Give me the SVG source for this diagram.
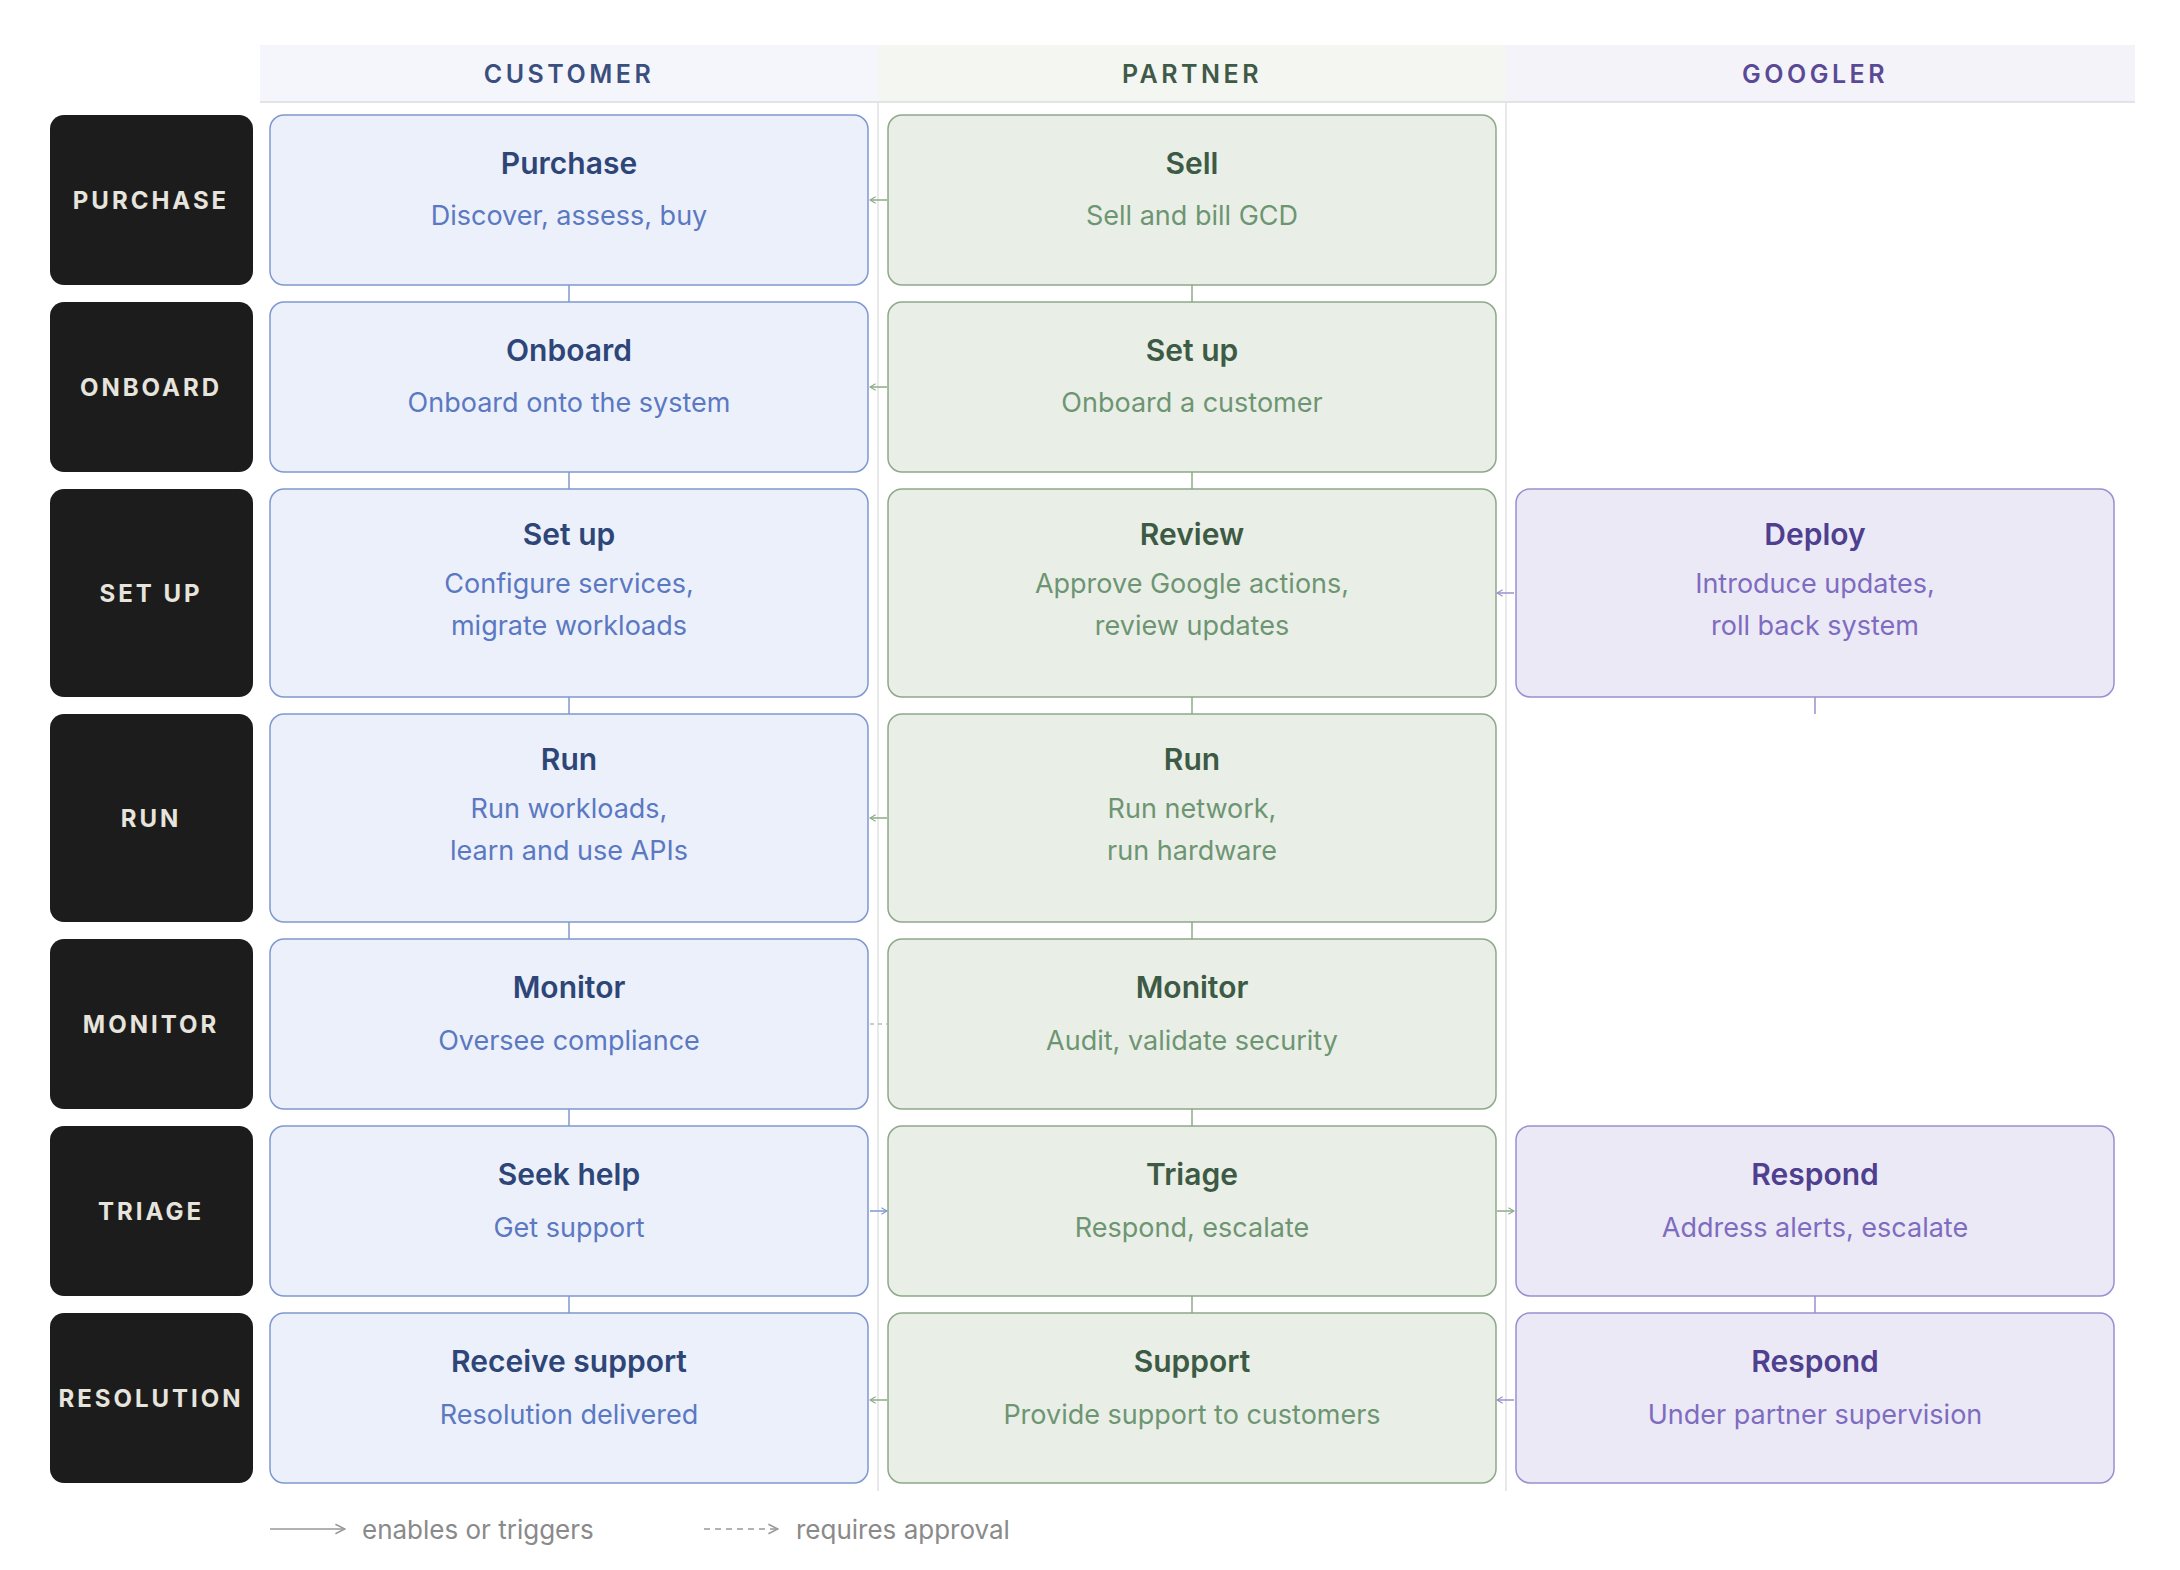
<svg xmlns="http://www.w3.org/2000/svg" width="2180" height="1570" viewBox="0 0 2180 1570">
<style>
text{font-family:Inter,"Liberation Sans",sans-serif;text-anchor:middle}
.lab rect{fill:#1c1c1c}
.lab text{fill:#e6e4dc;font-size:24px;font-weight:700;letter-spacing:3px}
.hd{font-size:25px;font-weight:600;letter-spacing:3.5px}
.c rect{fill:#ecf0fa;stroke:#7f98d0;stroke-width:1.5}
.c .t{fill:#2e4677}.c .s{fill:#5b78c2}
.p rect{fill:#e9efe6;stroke:#8fa88a;stroke-width:1.5}
.p .t{fill:#3d5a45}.p .s{fill:#6e9573}
.g rect{fill:#ece9f6;stroke:#9a8fd0;stroke-width:1.5}
.g .t{fill:#4f3f8f}.g .s{fill:#7e6cc0}
.t{font-size:30px;font-weight:600}
.s{font-size:27px}
.vc{stroke-width:1.5}
.leg{font-size:26px;fill:#8a8a8a;text-anchor:start}
</style>
<defs>
<marker id="ab" viewBox="0 0 10 10" refX="9" refY="5" markerWidth="8" markerHeight="8" orient="auto-start-reverse" markerUnits="userSpaceOnUse"><path d="M2,1 L9,5 L2,9" fill="none" stroke="#7f98d0" stroke-width="1.5"/></marker>
<marker id="ag" viewBox="0 0 10 10" refX="9" refY="5" markerWidth="8" markerHeight="8" orient="auto-start-reverse" markerUnits="userSpaceOnUse"><path d="M2,1 L9,5 L2,9" fill="none" stroke="#8fa88a" stroke-width="1.5"/></marker>
<marker id="av" viewBox="0 0 10 10" refX="9" refY="5" markerWidth="8" markerHeight="8" orient="auto-start-reverse" markerUnits="userSpaceOnUse"><path d="M2,1 L9,5 L2,9" fill="none" stroke="#9a8fd0" stroke-width="1.5"/></marker>
<marker id="ak" viewBox="0 0 10 10" refX="9" refY="5" markerWidth="12" markerHeight="12" orient="auto" markerUnits="userSpaceOnUse"><path d="M1,1 L9,5 L1,9" fill="none" stroke="#999" stroke-width="1.3"/></marker>
</defs>
<rect width="2180" height="1570" fill="#fff"/>
<g id="header">
<rect x="260" y="45" width="618" height="57" fill="#f4f6fb"/>
<rect x="878" y="45" width="628" height="57" fill="#f3f6f1"/>
<rect x="1506" y="45" width="629" height="57" fill="#f4f3fa"/>
<line x1="260" y1="102" x2="2135" y2="102" stroke="#dcdcdc" stroke-width="1.5"/>
<text class="hd" x="569" y="83" fill="#3b4f7f">CUSTOMER</text>
<text class="hd" x="1192" y="83" fill="#3f5a46">PARTNER</text>
<text class="hd" x="1815" y="83" fill="#5a4a95">GOOGLER</text>
<line x1="878" y1="102" x2="878" y2="1491" stroke="#e2e2e2" stroke-width="1.5"/>
<line x1="1506" y1="102" x2="1506" y2="1491" stroke="#e2e2e2" stroke-width="1.5"/>
</g>
<g id="labels" class="lab">
<g id="l-purchase"><rect x="50" y="115" width="203" height="170" rx="14"/><text x="151" y="209">PURCHASE</text></g>
<g id="l-onboard"><rect x="50" y="302" width="203" height="170" rx="14"/><text x="151" y="396">ONBOARD</text></g>
<g id="l-setup"><rect x="50" y="489" width="203" height="208" rx="14"/><text x="151" y="602">SET UP</text></g>
<g id="l-run"><rect x="50" y="714" width="203" height="208" rx="14"/><text x="151" y="827">RUN</text></g>
<g id="l-monitor"><rect x="50" y="939" width="203" height="170" rx="14"/><text x="151" y="1033">MONITOR</text></g>
<g id="l-triage"><rect x="50" y="1126" width="203" height="170" rx="14"/><text x="151" y="1220">TRIAGE</text></g>
<g id="l-resolution"><rect x="50" y="1313" width="203" height="170" rx="14"/><text x="151" y="1407">RESOLUTION</text></g>
</g>
<g id="connectors">
<g stroke="#7f98d0" class="vc">
<line x1="569" y1="285" x2="569" y2="302"/><line x1="569" y1="472" x2="569" y2="489"/><line x1="569" y1="697" x2="569" y2="714"/><line x1="569" y1="922" x2="569" y2="939"/><line x1="569" y1="1109" x2="569" y2="1126"/><line x1="569" y1="1296" x2="569" y2="1313"/>
</g>
<g stroke="#8fa88a" class="vc">
<line x1="1192" y1="285" x2="1192" y2="302"/><line x1="1192" y1="472" x2="1192" y2="489"/><line x1="1192" y1="697" x2="1192" y2="714"/><line x1="1192" y1="922" x2="1192" y2="939"/><line x1="1192" y1="1109" x2="1192" y2="1126"/><line x1="1192" y1="1296" x2="1192" y2="1313"/>
</g>
<g stroke="#9a8fd0" class="vc">
<line x1="1815" y1="697" x2="1815" y2="714"/><line x1="1815" y1="1296" x2="1815" y2="1313"/>
</g>
<g stroke-width="1.5" fill="none">
<line x1="887" y1="200" x2="870" y2="200" stroke="#8fa88a" marker-end="url(#ag)"/>
<line x1="887" y1="387" x2="870" y2="387" stroke="#8fa88a" marker-end="url(#ag)"/>
<line x1="887" y1="818" x2="870" y2="818" stroke="#8fa88a" marker-end="url(#ag)"/>
<line x1="887" y1="1400" x2="870" y2="1400" stroke="#8fa88a" marker-end="url(#ag)"/>
<line x1="870" y1="1024" x2="887" y2="1024" stroke="#bbb" stroke-dasharray="4,4"/>
<line x1="870" y1="1211" x2="887" y2="1211" stroke="#7f98d0" marker-end="url(#ab)"/>
<line x1="1514" y1="593" x2="1497" y2="593" stroke="#9a8fd0" marker-end="url(#av)"/>
<line x1="1497" y1="1211" x2="1514" y2="1211" stroke="#8fa88a" marker-end="url(#ag)"/>
<line x1="1514" y1="1400" x2="1497" y2="1400" stroke="#9a8fd0" marker-end="url(#av)"/>
</g>
</g>
<g id="customer" class="c">
<g id="c-purchase"><rect x="270" y="115" width="598" height="170" rx="14"/><text class="t" x="569" y="174">Purchase</text><text class="s" x="569" y="225">Discover, assess, buy</text></g>
<g id="c-onboard"><rect x="270" y="302" width="598" height="170" rx="14"/><text class="t" x="569" y="361">Onboard</text><text class="s" x="569" y="412">Onboard onto the system</text></g>
<g id="c-setup"><rect x="270" y="489" width="598" height="208" rx="14"/><text class="t" x="569" y="545">Set up</text><text class="s" x="569" y="593">Configure services,</text><text class="s" x="569" y="635">migrate workloads</text></g>
<g id="c-run"><rect x="270" y="714" width="598" height="208" rx="14"/><text class="t" x="569" y="770">Run</text><text class="s" x="569" y="818">Run workloads,</text><text class="s" x="569" y="860">learn and use APIs</text></g>
<g id="c-monitor"><rect x="270" y="939" width="598" height="170" rx="14"/><text class="t" x="569" y="998">Monitor</text><text class="s" x="569" y="1050">Oversee compliance</text></g>
<g id="c-seek"><rect x="270" y="1126" width="598" height="170" rx="14"/><text class="t" x="569" y="1185">Seek help</text><text class="s" x="569" y="1237">Get support</text></g>
<g id="c-receive"><rect x="270" y="1313" width="598" height="170" rx="14"/><text class="t" x="569" y="1372">Receive support</text><text class="s" x="569" y="1424">Resolution delivered</text></g>
</g>
<g id="partner" class="p">
<g id="p-sell"><rect x="888" y="115" width="608" height="170" rx="14"/><text class="t" x="1192" y="174">Sell</text><text class="s" x="1192" y="225">Sell and bill GCD</text></g>
<g id="p-setup"><rect x="888" y="302" width="608" height="170" rx="14"/><text class="t" x="1192" y="361">Set up</text><text class="s" x="1192" y="412">Onboard a customer</text></g>
<g id="p-review"><rect x="888" y="489" width="608" height="208" rx="14"/><text class="t" x="1192" y="545">Review</text><text class="s" x="1192" y="593">Approve Google actions,</text><text class="s" x="1192" y="635">review updates</text></g>
<g id="p-run"><rect x="888" y="714" width="608" height="208" rx="14"/><text class="t" x="1192" y="770">Run</text><text class="s" x="1192" y="818">Run network,</text><text class="s" x="1192" y="860">run hardware</text></g>
<g id="p-monitor"><rect x="888" y="939" width="608" height="170" rx="14"/><text class="t" x="1192" y="998">Monitor</text><text class="s" x="1192" y="1050">Audit, validate security</text></g>
<g id="p-triage"><rect x="888" y="1126" width="608" height="170" rx="14"/><text class="t" x="1192" y="1185">Triage</text><text class="s" x="1192" y="1237">Respond, escalate</text></g>
<g id="p-support"><rect x="888" y="1313" width="608" height="170" rx="14"/><text class="t" x="1192" y="1372">Support</text><text class="s" x="1192" y="1424">Provide support to customers</text></g>
</g>
<g id="googler" class="g">
<g id="g-deploy"><rect x="1516" y="489" width="598" height="208" rx="14"/><text class="t" x="1815" y="545">Deploy</text><text class="s" x="1815" y="593">Introduce updates,</text><text class="s" x="1815" y="635">roll back system</text></g>
<g id="g-respond1"><rect x="1516" y="1126" width="598" height="170" rx="14"/><text class="t" x="1815" y="1185">Respond</text><text class="s" x="1815" y="1237">Address alerts, escalate</text></g>
<g id="g-respond2"><rect x="1516" y="1313" width="598" height="170" rx="14"/><text class="t" x="1815" y="1372">Respond</text><text class="s" x="1815" y="1424">Under partner supervision</text></g>
</g>
<g id="legend">
<line x1="270" y1="1529" x2="345" y2="1529" stroke="#999" stroke-width="1.5" marker-end="url(#ak)"/>
<text class="leg" x="362" y="1539">enables or triggers</text>
<line x1="704" y1="1529" x2="778" y2="1529" stroke="#999" stroke-width="1.5" stroke-dasharray="6,5" marker-end="url(#ak)"/>
<text class="leg" x="796" y="1539">requires approval</text>
</g>
</svg>
